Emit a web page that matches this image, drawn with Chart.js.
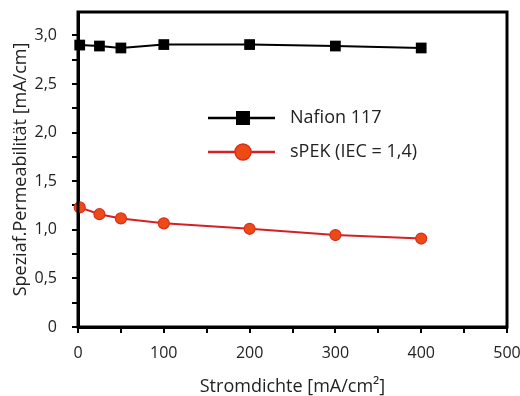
<!DOCTYPE html>
<html>
<head>
<meta charset="utf-8">
<script src="https://cdn.jsdelivr.net/npm/chart.js@4/dist/chart.umd.min.js"></script>
<style>
  html, body { margin: 0; padding: 0; background: #fff; }
  #wrap { width: 520px; height: 396px; position: relative; }
</style>
</head>
<body>
<div id="wrap"><canvas id="c" width="520" height="396"></canvas></div>
<script>
// ---- data ----
const stromdichte = [2, 25, 50, 100, 200, 300, 400];
const nafion117 = [2.90, 2.89, 2.87, 2.905, 2.905, 2.89, 2.87];
const spek = [1.23, 1.16, 1.117, 1.066, 1.01, 0.946, 0.91];
const seriesNames = ['Nafion 117', 'sPEK (IEC = 1,4)'];
const xTicks = [0, 50, 100, 150, 200, 250, 300, 350, 400, 450, 500];
const xTickLabels = ['0', '', '100', '', '200', '', '300', '', '400', '', '500'];
const yTicks = [0, 0.25, 0.5, 0.75, 1.0, 1.25, 1.5, 1.75, 2.0, 2.25, 2.5, 2.75, 3.0];
const yTickLabels = ['0', '', '0,5', '', '1,0', '', '1,5', '', '2,0', '', '2,5', '', '3,0'];
const xTitle = 'Stromdichte [mA/cm²]';
const yTitle = 'Speziaf.Permeabilität [mA/cm]';

const FONT = 'Open Sans';
const RED_LINE = '#d42027';
const RED_FILL = '#ee4a16';
const RED_BORDER = '#d8301c';

const frame = {
  id: 'frame',
  afterDatasetsDraw(chart) {
    const ctx = chart.ctx, a = chart.chartArea;
    ctx.save();
    ctx.strokeStyle = '#000';
    ctx.lineWidth = 3;
    ctx.strokeRect(a.left, a.top, a.right - a.left, a.bottom - a.top);
    ctx.restore();
  }
};

const legendPlugin = {
  id: 'customLegend',
  afterDatasetsDraw(chart) {
    const ctx = chart.ctx;
    const x0 = 208, x1 = 275, mx = 243, tx = 290;
    const rows = [118, 152];
    ctx.save();
    chart.data.datasets.forEach((ds, i) => {
      const y = rows[i];
      ctx.strokeStyle = ds.borderColor;
      ctx.lineWidth = 2.5;
      ctx.beginPath(); ctx.moveTo(x0, y); ctx.lineTo(x1, y); ctx.stroke();
      if (ds.pointStyle === 'rect') {
        ctx.fillStyle = '#000';
        ctx.fillRect(mx - 7, y - 7, 14, 14);
      } else {
        ctx.beginPath(); ctx.arc(mx, y, 8, 0, Math.PI * 2);
        ctx.fillStyle = RED_FILL; ctx.fill();
        ctx.lineWidth = 1.5; ctx.strokeStyle = RED_BORDER; ctx.stroke();
      }
      ctx.fillStyle = '#222';
      ctx.font = '18px "' + FONT + '"';
      ctx.textBaseline = 'middle';
      ctx.textAlign = 'left';
      ctx.fillText(ds.label, tx, y);
    });
    ctx.restore();
  }
};

new Chart(document.getElementById('c'), {
  type: 'line',
  data: {
    datasets: [
      {
        label: seriesNames[0],
        data: stromdichte.map((x, i) => ({ x: x, y: nafion117[i] })),
        borderColor: '#000',
        backgroundColor: '#000',
        borderWidth: 2,
        pointStyle: 'rect',
        pointRadius: 7.6,
        pointBorderWidth: 0,
        pointBackgroundColor: '#000',
        tension: 0,
        clip: false
      },
      {
        label: seriesNames[1],
        data: stromdichte.map((x, i) => ({ x: x, y: spek[i] })),
        borderColor: RED_LINE,
        backgroundColor: RED_FILL,
        borderWidth: 2,
        pointStyle: 'circle',
        pointRadius: 5.5,
        pointBorderWidth: 1.2,
        pointBackgroundColor: RED_FILL,
        pointBorderColor: RED_BORDER,
        tension: 0,
        clip: false
      }
    ]
  },
  options: {
    responsive: false,
    animation: false,
    devicePixelRatio: 1,
    layout: { padding: { top: 12, right: 13, left: 0, bottom: 0 } },
    plugins: { legend: { display: false }, tooltip: { enabled: false } },
    scales: {
      x: {
        type: 'linear',
        min: 0, max: 500,
        afterBuildTicks(s) { s.ticks = xTicks.map(v => ({ value: v })); },
        afterFit(s) { s.height = 69; s.paddingLeft = 0; s.paddingRight = 0; },
        ticks: {
          autoSkip: false, maxRotation: 0,
          padding: 11,
          color: '#222',
          font: { family: FONT, size: 16 },
          callback: (v, i) => xTickLabels[i]
        },
        grid: { drawOnChartArea: false, drawTicks: true, tickLength: 6, color: '#000', lineWidth: 2 },
        border: { display: true, color: '#000', width: 3 },
        title: { display: true, text: xTitle, color: '#222', font: { family: FONT, size: 18 }, padding: { top: 0, bottom: -2 } }
      },
      y: {
        type: 'linear',
        min: 0, max: 3.24,
        afterBuildTicks(s) { s.ticks = yTicks.map(v => ({ value: v })); },
        afterFit(s) { s.width = 78; s.paddingTop = 0; s.paddingBottom = 0; },
        ticks: {
          autoSkip: false,
          padding: 15,
          color: '#222',
          font: { family: FONT, size: 16 },
          callback: (v, i) => yTickLabels[i]
        },
        grid: { drawOnChartArea: false, drawTicks: true, tickLength: 6, color: '#000', lineWidth: 2 },
        border: { display: true, color: '#000', width: 3 },
        title: { display: true, text: yTitle, color: '#222', font: { family: FONT, size: 18 }, padding: { top: 10, bottom: 0 } }
      }
    }
  },
  plugins: [frame, legendPlugin]
});
</script>
</body>
</html>
